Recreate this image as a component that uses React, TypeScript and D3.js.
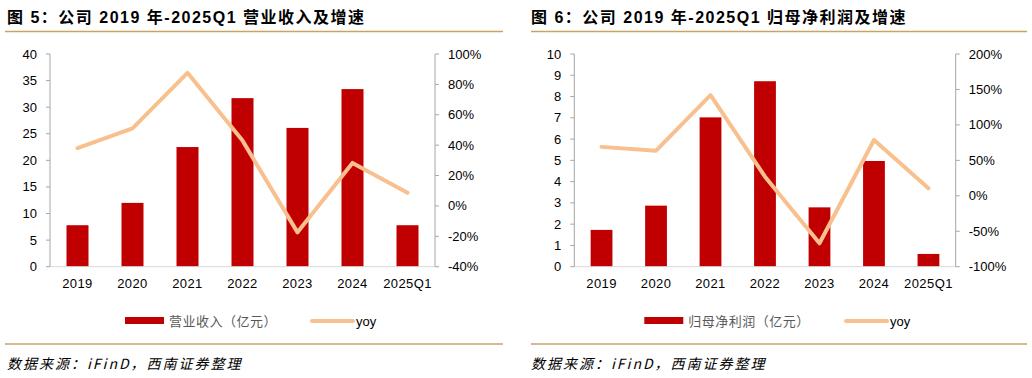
import React from "react";
import * as d3 from "d3";

const categories = ["2019", "2020", "2021", "2022", "2023", "2024", "2025Q1"];
const revenue = [7.8, 12.0, 22.5, 31.7, 26.1, 33.4, 7.8];
const revenueYoy = [38, 51, 87.6, 43, -17.4, 28.3, 8.6];
const profit = [1.73, 2.87, 7.02, 8.72, 2.79, 4.97, 0.6];
const profitYoy = [69, 63.6, 142, 27, -67, 78.7, 10.6];

const leftTicksA = [0, 5, 10, 15, 20, 25, 30, 35, 40];
const rightTicksA = [-40, -20, 0, 20, 40, 60, 80, 100];
const leftTicksB = [0, 1, 2, 3, 4, 5, 6, 7, 8, 9, 10];
const rightTicksB = [-100, -50, 0, 50, 100, 150, 200];

const titleA = "图 5：公司 2019 年-2025Q1 营业收入及增速";
const titleB = "图 6：公司 2019 年-2025Q1 归母净利润及增速";
const legendA = "营业收入（亿元）";
const legendB = "归母净利润（亿元）";
const source = "数据来源：iFinD，西南证券整理";

const BAR = "#C00000";
const LINE = "#F8C08E";
const GOLD = "#C9A266";
const AXIS = "#A6A6A6";
const FONT = "'Liberation Sans', Arial, 'Noto Sans CJK SC', sans-serif";
const CJK = "'Noto Sans CJK SC', 'Liberation Sans', sans-serif";

type PanelProps = {
  ox: number;
  sepX1: number;
  sepX2: number;
  axL: number;
  axR: number;
  title: string;
  legend: string;
  bars: number[];
  yoy: number[];
  lTicks: number[];
  rTicks: number[];
  legRectX: number;
  legLineX: number;
};

function Panel(p: PanelProps) {
  const top = 54;
  const bottom = 266.7;
  const x = d3.scaleBand<string>().domain(categories).range([p.axL, p.axR]).paddingInner(0.6).paddingOuter(0.3);
  const yL = d3.scaleLinear().domain([p.lTicks[0], p.lTicks[p.lTicks.length - 1]]).range([bottom, top]);
  const yR = d3.scaleLinear().domain([p.rTicks[0], p.rTicks[p.rTicks.length - 1]]).range([bottom, top]);
  const line = d3
    .line<number>()
    .x((_, i) => (x(categories[i]) as number) + x.bandwidth() / 2)
    .y((d) => yR(d));
  return (
    <g>
      <text x={p.ox + 2} y={22.5} fontFamily={FONT} fontWeight="bold" fontSize={16} letterSpacing={1.5} fill="#000">
        {p.title}
      </text>
      <line x1={p.sepX1} x2={p.sepX2} y1={31.5} y2={31.5} stroke={GOLD} strokeWidth={1.5} />
      {p.bars.map((v, i) => (
        <rect
          key={i}
          x={x(categories[i])}
          y={yL(v)}
          width={x.bandwidth()}
          height={bottom - yL(v)}
          fill={BAR}
        />
      ))}
      <line x1={p.axL} x2={p.axR} y1={bottom} y2={bottom} stroke="#D9D9D9" strokeWidth={1} />
      {categories.map((c) => (
        <text
          key={c}
          x={(x(c) as number) + x.bandwidth() / 2}
          y={288}
          textAnchor="middle"
          fontFamily={FONT}
          fontSize={13}
          letterSpacing={0.4}
          fill="#000"
        >
          {c}
        </text>
      ))}
      <line x1={p.axL} x2={p.axL} y1={top} y2={bottom} stroke={AXIS} strokeWidth={1} />
      {p.lTicks.map((t) => (
        <g key={t}>
          <line x1={p.axL - 4} x2={p.axL} y1={yL(t)} y2={yL(t)} stroke={AXIS} />
          <text x={p.axL - 13} y={yL(t) + 4.5} textAnchor="end" fontFamily={FONT} fontSize={13} fill="#000">
            {t}
          </text>
        </g>
      ))}
      <line x1={p.axR} x2={p.axR} y1={top} y2={bottom} stroke={AXIS} strokeWidth={1} />
      {p.rTicks.map((t) => (
        <g key={t}>
          <line x1={p.axR} x2={p.axR + 4} y1={yR(t)} y2={yR(t)} stroke={AXIS} />
          <text x={p.axR + 13} y={yR(t) + 4.5} textAnchor="start" fontFamily={FONT} fontSize={13} fill="#000">
            {t}%
          </text>
        </g>
      ))}
      <path d={line(p.yoy) || ""} fill="none" stroke={LINE} strokeWidth={4} strokeLinejoin="round" strokeLinecap="round" />
      <rect x={p.legRectX} y={317} width={39} height={7} fill={BAR} />
      <text x={p.legRectX + 44} y={325.5} fontFamily={CJK} fontSize={13} letterSpacing={0.5} fill="#595959">
        {p.legend}
      </text>
      <line x1={p.legLineX} x2={p.legLineX + 41} y1={321} y2={321} stroke={LINE} strokeWidth={4} strokeLinecap="round" />
      <text x={p.legLineX + 44} y={325.5} fontFamily={FONT} fontSize={13} fill="#000">
        yoy
      </text>
      <line x1={p.sepX1} x2={p.sepX2} y1={344} y2={344} stroke={GOLD} strokeWidth={1.5} />
      <text x={p.ox + 2} y={369} fontFamily={CJK} fontStyle="italic" fontSize={14} letterSpacing={2} fill="#000">
        {source}
      </text>
    </g>
  );
}

export default function App() {
  return (
    <svg
      width={1032}
      height={378}
      style={{ position: "absolute", left: 0, top: 0, background: "#fff" }}
    >
      <rect width={1032} height={378} fill="#fff" />
      <Panel
        ox={5}
        sepX1={5}
        sepX2={503}
        axL={50}
        axR={435}
        title={titleA}
        legend={legendA}
        bars={revenue}
        yoy={revenueYoy}
        lTicks={leftTicksA}
        rTicks={rightTicksA}
        legRectX={125}
        legLineX={312}
      />
      <Panel
        ox={529}
        sepX1={531}
        sepX2={1027}
        axL={574.3}
        axR={955.7}
        title={titleB}
        legend={legendB}
        bars={profit}
        yoy={profitYoy}
        lTicks={leftTicksB}
        rTicks={rightTicksB}
        legRectX={644.3}
        legLineX={846}
      />
    </svg>
  );
}
